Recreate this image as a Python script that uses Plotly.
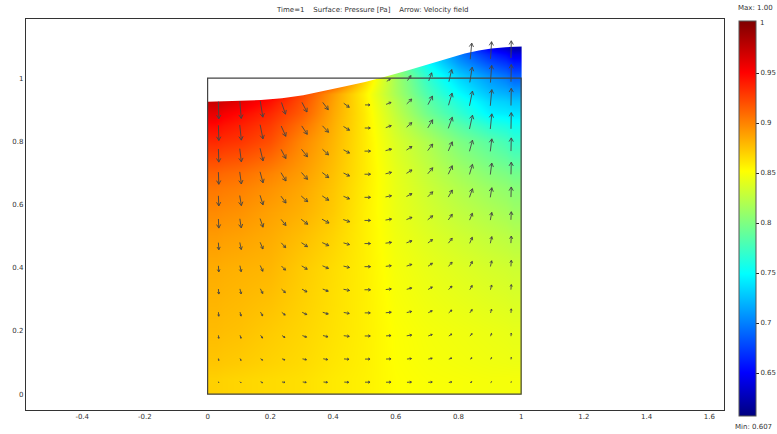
import plotly.graph_objects as go

nan = float("nan")

# pressure surface
x_edges = [0, .05, .15, .25, .35, .45, .55, .65, .75, .85, .95, 1]
y_edges = [0, .1, .3, .5, .65, .75, .85, .925, .975, 1.025, 1.075, 1.11]
pressure = [
    [.870, .868, .866, .864, .860, .857, .852, .850, .849, .848, .848],
    [.878, .876, .872, .868, .863, .858, .851, .848, .846, .844, .842],
    [.884, .882, .880, .872, .865, .858, .848, .843, .839, .835, .832],
    [.897, .894, .888, .882, .872, .858, .844, .835, .827, .820, .813],
    [.912, .908, .900, .890, .876, .860, .842, .828, .815, .803, .795],
    [.935, .930, .920, .898, .880, .860, .837, .820, .800, .785, .770],
    [.960, .948, .935, .915, .885, .860, .827, .795, .770, .745, .740],
    [.985, .975, .955, .925, .890, .857, .817, .780, .750, .725, .715],
    [.995, .990, .980, .960, .930, .870, .815, .770, .735, .710, .690],
    [.995, .990, .980, .960, .930, .850, .800, .750, .710, .680, .660],
    [.995, .990, .980, .960, .930, .820, .780, .740, .690, .650, .625],
]

# deformed top boundary of the domain
top_x = [0, .05, .104, .17, .237, .305, .375, .44, .502, .566, .64, .714, .77, .82, .865, .905, .95, 1]
top_y = [.925, .926, .928, .931, .936, .946, .96, .974, .988, 1.004, 1.025, 1.046, 1.063, 1.078, 1.087, 1.094, 1.098, 1.10]

# velocity arrows (bottom row first, left column first)
col_x = [.035, .105, .172, .242, .309, .376, .443, .51, .577, .643, .71, .774, .84, .904, .968]
row_first_y = .038
col_step = [.0717, .0718, .072, .0722, .0725, .0728, .073, .0731, .0735, .074, .0743, .0746, .0748, .075, .0752]
u = [
    [.3, 1, 2, 3, 3.5, 4, 4.5, 5, 5, 4.5, 4, 3, 2, 1, .3],
    [.3, 1, 2, 3, 4, 4.5, 5, 5, 5, 4.5, 4, 3, 2, 1, .3],
    [.3, 1, 2, 3, 4.2, 5, 5.5, 5.5, 5, 5, 4, 3, 2.2, 1, .3],
    [.3, 1, 2.2, 3.4, 4.6, 5.5, 5.5, 5.5, 5.5, 5, 4, 3.2, 2.4, 1, .3],
    [.4, 1.2, 2.4, 3.8, 5, 5.5, 6, 6, 5.5, 5, 4.2, 3.4, 2.4, 1.2, .4],
    [.4, 1.2, 2.6, 4, 5.5, 6, 6, 6, 5.5, 5.2, 4.4, 3.6, 2.6, 1.2, .4],
    [.4, 1.4, 2.8, 4.4, 6, 6.5, 6, 6, 6, 5.5, 4.6, 3.8, 2.6, 1.4, .4],
    [.4, 1.4, 3, 4.8, 6.5, 7, 6.5, 6, 6, 5.5, 5, 4, 2.8, 1.4, .4],
    [.4, 1.6, 3, 5, 6.5, 6.5, 6, 6, 6, 5.5, 5, 4, 3, 1.5, .3],
    [.4, 1.6, 3, 5, 6, 6.5, 6, 6, 6, 5.5, 5, 4, 3, 1.5, .3],
    [.4, 1.6, 3, 4.8, 6, 6, 6, 6, 6, 5.5, 5, 4, 3, 1.5, .3],
    [.4, 1.6, 2.8, 4.6, 5.5, 6, 6, 5.5, 5.5, 5.2, 4.8, 4, 3, 1.5, .3],
    [.4, 1.4, 2.6, 4, 5, 5.5, 5.5, 5, 5, 5, 4.5, 3.6, 3, 1.5, .3],
    [nan, nan, nan, nan, nan, nan, nan, nan, 3.5, 3.5, 3, 2.8, 2.4, 1.2, .3],
    [nan, nan, nan, nan, nan, nan, nan, nan, nan, nan, nan, nan, 1.5, 1, .3],
]
v = [
    [-1, -1, -1, -.4, -.4, -.3, -.2, 0, .1, .2, .3, .5, .7, .9, 1],
    [-2, -2, -1.5, -1.1, -.8, -.8, -.4, 0, .2, .5, .8, 1.2, 1.5, 1.8, 2],
    [-3, -3, -2.8, -2, -1.5, -1.2, -.7, 0, .4, .8, 1.5, 2, 2.5, 2.8, 3],
    [-4, -4, -3.8, -2.7, -2.2, -1.7, -1, 0, .5, 1.1, 2, 2.8, 3.4, 3.8, 4],
    [-5, -5, -4.7, -3.4, -2.7, -2.1, -1.2, 0, .6, 1.4, 2.5, 3.5, 4.2, 4.7, 5],
    [-6, -6, -5.7, -4.1, -3.3, -2.6, -1.4, 0, .7, 1.7, 3, 4.2, 5, 5.7, 6],
    [-7, -7, -6.6, -4.8, -3.9, -3, -1.7, 0, .8, 2, 3.5, 4.9, 6, 6.6, 7],
    [-9, -9, -8.5, -6, -4.9, -3.8, -2.2, 0, 1, 2.3, 4, 5.6, 6.8, 7.6, 8],
    [-10, -10, -9.5, -6.8, -5.6, -4.3, -2.5, 0, 1.2, 2.8, 5, 7, 8.5, 9.5, 10],
    [-12, -12, -11, -8.2, -6.8, -5.1, -3, 0, 1.4, 3.4, 6, 8.4, 10, 11.4, 12],
    [-13, -13, -12.5, -9, -7.5, -5.5, -3.2, 0, 1.6, 3.6, 6.5, 9, 11, 12.4, 13],
    [-15, -15, -14, -10.2, -8.3, -6.4, -3.7, 0, 2, 4.5, 8, 11, 13.6, 15, 16],
    [-17, -17, -16, -11.5, -9.5, -7.2, -4, 0, 2, 4.8, 8.5, 12, 14.5, 16, 17],
    [nan, nan, nan, nan, nan, nan, nan, nan, 2.2, 5, 8, 12, 15, 17, 17],
    [nan, nan, nan, nan, nan, nan, nan, nan, nan, nan, nan, nan, 16, 17, 17],
]
arrow_scale = .0032

x_ticks = [-.4, -.2, 0, .2, .4, .6, .8, 1, 1.2, 1.4, 1.6]
y_ticks = [0, .2, .4, .6, .8, 1]
bar_ticks = [.65, .7, .75, .8, .85, .9, .95, 1]
p_min, p_max = .607, 1.002

jet = [[0, "#00007f"], [.11, "#0000ff"], [.36, "#00ffff"], [.49, "#80ff80"],
       [.62, "#ffff00"], [.87, "#ff0000"], [1, "#7f0000"]]

ax, ay = [], []
for r, (ru, rv) in enumerate(zip(u, v)):
    for c, (du, dv) in enumerate(zip(ru, rv)):
        if du != du:
            continue
        x0 = col_x[c]
        y0 = row_first_y + r * col_step[c]
        dx, dy = du * arrow_scale, dv * arrow_scale
        tx, ty = x0 + dx / 2, y0 + dy / 2
        bx, by = x0 - dx / 2, y0 - dy / 2
        ax += [bx, tx, None]
        ay += [by, ty, None]
        # open arrow head, proportional but capped so long arrows keep a small head
        length = (dx * dx + dy * dy) ** .5
        if length > .0001:
            head = min(.45 * length, .0135)
            hx, hy = -dx / length * head, -dy / length * head
            ax += [tx + hx * .87 - hy * .5, tx, tx + hx * .87 + hy * .5, None]
            ay += [ty + hy * .87 + hx * .5, ty, ty + hy * .87 - hx * .5, None]

W, H = 777, 434
font = dict(family="DejaVu Sans", size=7, color="#333")

fig = go.Figure()
fig.add_trace(go.Heatmap(
    x=x_edges, y=y_edges, z=pressure, zsmooth="best", colorscale=jet,
    zmin=p_min, zmax=p_max, hoverinfo="skip",
    colorbar=dict(
        thickness=17, thicknessmode="pixels", len=395, lenmode="pixels",
        x=742 / W, xanchor="left", xpad=0, y=1 - 416 / H, yanchor="bottom", ypad=0,
        tickvals=bar_ticks[:-1], ticktext=["0.65", "0.7", "0.75", "0.8", "0.85", "0.9", "0.95"],
        ticks="outside", ticklen=3, tickcolor="#222", tickwidth=1,
        outlinewidth=1, outlinecolor="#555",
        tickfont=font,
    ),
))
fig.add_trace(go.Scatter(
    x=top_x + [1.004, 1.004, -.006, -.006], y=top_y + [1.10, 1.13, 1.13, .925], mode="lines",
    fill="toself", fillcolor="white", line=dict(width=0), hoverinfo="skip", showlegend=False,
))
fig.add_trace(go.Scatter(
    x=ax, y=ay, mode="lines", line=dict(color="#444444", width=.9),
    hoverinfo="skip", showlegend=False,
))
fig.add_shape(type="rect", x0=0, y0=0, x1=1, y1=1, line=dict(color="#444", width=1.2), layer="above")

axis = dict(showgrid=False, zeroline=False, showline=True, mirror=True, linecolor="#333", linewidth=1,
            ticks="", tickfont=font)
fig.update_layout(
    width=W, height=H, autosize=False,
    margin=dict(l=0, r=0, t=0, b=0),
    paper_bgcolor="white", plot_bgcolor="white", showlegend=False,
    xaxis=dict(axis, domain=[26 / W, 726.5 / W], range=[-.5796, 1.646], tickvals=x_ticks,
               ticktext=["-0.4", "-0.2", "0", "0.2", "0.4", "0.6", "0.8", "1", "1.2", "1.4", "1.6"]),
    yaxis=dict(axis, domain=[1 - 410 / H, 1 - 19 / H], range=[-.05, 1.187], tickvals=y_ticks,
               ticktext=["0", "0.2", "0.4", "0.6", "0.8", "1"]),
    annotations=[
        dict(text="Time=1    Surface: Pressure [Pa]    Arrow: Velocity field", xref="paper", yref="paper",
             x=374 / W, y=1 - 10 / H, yanchor="middle", showarrow=False, font=font),
        dict(text="Max: 1.00", xref="paper", yref="paper", x=758 / W, y=1 - 8 / H, xanchor="center", yanchor="middle",
             showarrow=False, font=font),
        dict(text="Min: 0.607", xref="paper", yref="paper", x=1, y=1 - 427 / H, xanchor="right", yanchor="middle",
             showarrow=False, font=font),
        dict(text="1", xref="paper", yref="paper", x=761 / W, y=1 - 23 / H, xanchor="left", yanchor="middle",
             showarrow=False, font=font),
    ],
)
fig.write_html("out.html", config={"displayModeBar": False},
               post_script="document.body.style.margin='0';document.body.style.overflow='hidden';")
